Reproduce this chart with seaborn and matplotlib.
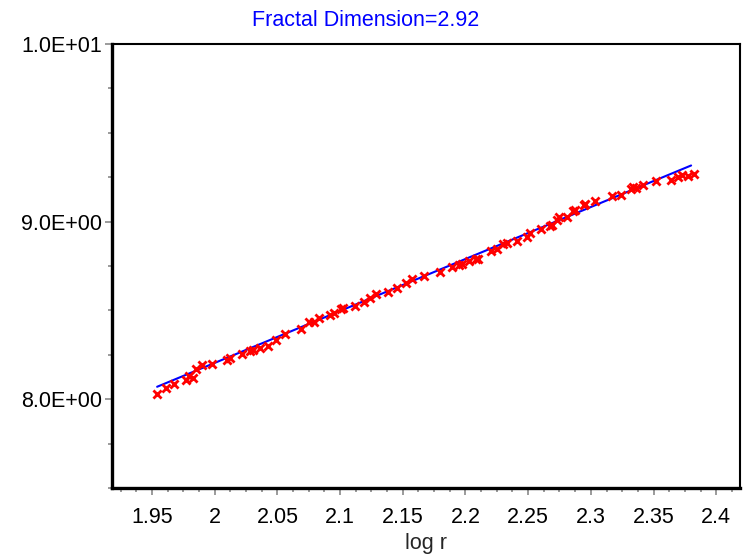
import matplotlib
matplotlib.use("Agg")
import matplotlib.pyplot as plt
import matplotlib.ticker as mticker
import seaborn as sns
import pandas as pd

# ---- data ----
log_r = [1.9542, 1.9609, 1.9675, 1.9771, 1.9797, 1.9829, 1.9848, 1.9896, 1.9976, 2.0096,
         2.0122, 2.0215, 2.0281, 2.0307, 2.0361, 2.0422, 2.0486, 2.0560, 2.0685, 2.0754,
         2.0794, 2.0833, 2.0919, 2.0951, 2.1009, 2.1025, 2.1118, 2.1192, 2.1238, 2.1283,
         2.1379, 2.1456, 2.1525, 2.1570, 2.1668, 2.1798, 2.1892, 2.1947, 2.1973, 2.2027,
         2.2080, 2.2099, 2.2202, 2.2250, 2.2296, 2.2331, 2.2412, 2.2492, 2.2511, 2.2605,
         2.2672, 2.2694, 2.2734, 2.2745, 2.2812, 2.2861, 2.2875, 2.2942, 2.2955, 2.3036,
         2.3166, 2.3238, 2.3319, 2.3338, 2.3359, 2.3414, 2.3521, 2.3642, 2.3696, 2.3731,
         2.3777, 2.3823]
log_n = [8.031, 8.063, 8.087, 8.110, 8.132, 8.119, 8.170, 8.190, 8.200, 8.223,
         8.234, 8.256, 8.269, 8.279, 8.288, 8.301, 8.335, 8.367, 8.395, 8.433,
         8.435, 8.457, 8.472, 8.486, 8.510, 8.514, 8.527, 8.548, 8.572, 8.594,
         8.606, 8.628, 8.655, 8.677, 8.696, 8.717, 8.745, 8.756, 8.759, 8.776,
         8.790, 8.792, 8.833, 8.846, 8.874, 8.880, 8.889, 8.912, 8.936, 8.959,
         8.974, 8.979, 9.011, 9.024, 9.026, 9.058, 9.068, 9.096, 9.101, 9.114,
         9.143, 9.148, 9.184, 9.195, 9.192, 9.207, 9.229, 9.237, 9.252, 9.261,
         9.259, 9.270]

fit_x = [1.954, 2.380]
fit_y = [8.070, 9.316]

title_text = "Fractal Dimension=2.92"
x_label = "log r"
x_ticks = [1.95, 2.0, 2.05, 2.1, 2.15, 2.2, 2.25, 2.3, 2.35, 2.4]
x_tick_labels = ["1.95", "2", "2.05", "2.1", "2.15", "2.2", "2.25", "2.3", "2.35", "2.4"]
y_ticks = [8.0, 9.0, 10.0]
y_tick_labels = ["8.0E+00", "9.0E+00", "1.0E+01"]

# ---- styling ----
sns.set_style("white")
plt.rcParams["font.family"] = ["Liberation Sans", "DejaVu Sans"]

fig = plt.figure(figsize=(7.44, 5.58), dpi=100)
ax = fig.add_axes([112 / 744, 1 - 488 / 558, (740 - 112) / 744, (488 - 44) / 558])

pts = pd.DataFrame({"log r": log_r, "log N": log_n})
fit = pd.DataFrame({"log r": fit_x, "log N": fit_y})

sns.lineplot(data=fit, x="log r", y="log N", ax=ax, color="#0000FF", linewidth=1.5, zorder=2)
sns.scatterplot(data=pts, x="log r", y="log N", ax=ax, marker="x", color="#FF0000",
                s=34, linewidth=2.0, zorder=3)

ax.set_xlim(1.918, 2.419)
ax.set_ylim(7.5, 10.0)

ax.xaxis.set_major_locator(mticker.FixedLocator(x_ticks))
ax.xaxis.set_major_formatter(mticker.FixedFormatter(x_tick_labels))
ax.xaxis.set_minor_locator(mticker.MultipleLocator(0.0125))
ax.yaxis.set_major_locator(mticker.FixedLocator(y_ticks))
ax.yaxis.set_major_formatter(mticker.FixedFormatter(y_tick_labels))
ax.yaxis.set_minor_locator(mticker.MultipleLocator(0.25))

ax.tick_params(axis="both", which="major", direction="out", length=5, width=1.1,
               color="#808080", labelsize=15.5, labelcolor="black",
               bottom=True, left=True)
ax.tick_params(axis="x", which="major", pad=9)
ax.tick_params(axis="y", which="major", pad=2)
ax.tick_params(axis="both", which="minor", direction="out", length=3, width=1.1,
               color="#808080", bottom=True, left=True)

for side in ["left", "bottom"]:
    ax.spines[side].set_linewidth(2.4)
    ax.spines[side].set_color("black")
for side in ["top", "right"]:
    ax.spines[side].set_linewidth(1.5)
    ax.spines[side].set_color("black")
    ax.spines[side].set_visible(True)

ax.set_xlabel(x_label, fontsize=15.5, labelpad=3)
ax.set_ylabel("")
ax.grid(False)
fig.text(366 / 744, 1 - 20 / 558, title_text, color="#0000FF", fontsize=15.5,
         ha="center", va="center")

fig.savefig("out.png", dpi=100)
